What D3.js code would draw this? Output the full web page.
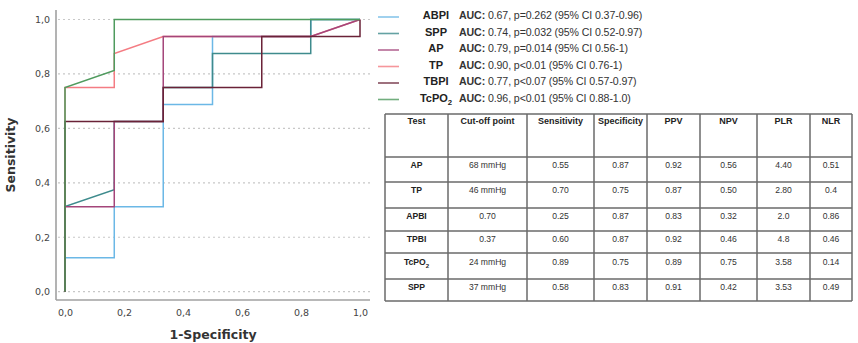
<!DOCTYPE html>
<html>
<head>
<meta charset="utf-8">
<script src="https://cdn.jsdelivr.net/npm/d3@7"></script>
<style>
  body, html { margin:0; padding:0; background:#fff; font-family:"Liberation Sans", Arial, sans-serif; }
  svg text { fill:#333; }
</style>
</head>
<body>
<svg id="chart" width="858" height="343"></svg>
<script>
// ROC curves (1-specificity, sensitivity)
var abpiX = [0, 0, 0.167, 0.167, 0.333, 0.333, 0.5, 0.5, 0.833, 0.833, 1];
var abpiY = [0, 0.125, 0.125, 0.3125, 0.3125, 0.6875, 0.6875, 0.9375, 0.9375, 1, 1];
var sppX = [0, 0, 0.167, 0.167, 0.333, 0.333, 0.5, 0.5, 0.833, 0.833, 1];
var sppY = [0, 0.3125, 0.375, 0.625, 0.625, 0.75, 0.75, 0.875, 0.875, 1, 1];
var apX = [0, 0, 0.167, 0.167, 0.333, 0.333, 0.833, 1];
var apY = [0, 0.3125, 0.3125, 0.625, 0.625, 0.9375, 0.9375, 1];
var tpX = [0, 0, 0.167, 0.167, 0.333, 0.833, 1];
var tpY = [0, 0.75, 0.75, 0.875, 0.9375, 0.9375, 1];
var tbpiX = [0, 0, 0.333, 0.333, 0.667, 0.667, 1, 1];
var tbpiY = [0, 0.625, 0.625, 0.75, 0.75, 0.9375, 0.9375, 1];
var tcpoX = [0, 0, 0.167, 0.167, 1];
var tcpoY = [0, 0.75, 0.8125, 1, 1];

var seriesNames = ["ABPI", "SPP", "AP", "TP", "TBPI", "TcPO2"];
var seriesAuc = [
  "0.67, p=0.262 (95% CI 0.37-0.96)",
  "0.74, p=0.032 (95% CI 0.52-0.97)",
  "0.79, p=0.014 (95% CI 0.56-1)",
  "0.90, p<0.01 (95% CI 0.76-1)",
  "0.77, p<0.07 (95% CI 0.57-0.97)",
  "0.96, p<0.01 (95% CI 0.88-1.0)"
];
var seriesColors = ["#6bb8e6", "#3e8b8d", "#a4457a", "#f47c83", "#6a2237", "#4f9b5e"];
var axisTicks = [0, 0.2, 0.4, 0.6, 0.8, 1.0];

// table
var tableHeader = ["Test", "Cut-off point", "Sensitivity", "Specificity", "PPV", "NPV", "PLR", "NLR"];
var tableTests = ["AP", "TP", "APBI", "TPBI", "TcPO2", "SPP"];
var tableCutoff = ["68 mmHg", "46 mmHg", "0.70", "0.37", "24 mmHg", "37 mmHg"];
var tableSens = ["0.55", "0.70", "0.25", "0.60", "0.89", "0.58"];
var tableSpec = ["0.87", "0.75", "0.87", "0.87", "0.75", "0.83"];
var tablePPV = ["0.92", "0.87", "0.83", "0.92", "0.89", "0.91"];
var tableNPV = ["0.56", "0.50", "0.32", "0.46", "0.75", "0.42"];
var tablePLR = ["4.40", "2.80", "2.0", "4.8", "3.58", "3.53"];
var tableNLR = ["0.51", "0.4", "0.86", "0.46", "0.14", "0.49"];

var svg = d3.select("#chart");

var x = d3.scaleLinear().domain([0, 1]).range([65, 360]);
var y = d3.scaleLinear().domain([0, 1]).range([291.7, 19.5]);
var fmt = function(d){ return d3.format(".1f")(d).replace(".", ","); };

// gridlines
svg.append("g").selectAll("line").data(axisTicks).enter().append("line")
   .attr("x1", 58).attr("x2", 370)
   .attr("y1", function(d){ return y(d); }).attr("y2", function(d){ return y(d); })
   .style("stroke", "#c8c8c8").style("stroke-width", 1.2).style("stroke-dasharray", "2,3");

// axes
var yAxis = svg.append("g").attr("transform", "translate(56,0)")
   .call(d3.axisLeft(y).tickValues(axisTicks).tickSize(0).tickPadding(6).tickFormat(fmt));
var xAxis = svg.append("g").attr("transform", "translate(0,300)")
   .call(d3.axisBottom(x).tickValues(axisTicks).tickSize(0).tickPadding(9).tickFormat(fmt));
[yAxis, xAxis].forEach(function(a){
  a.select(".domain").remove();
  a.selectAll("text").style("font-family", "'DejaVu Sans', sans-serif").style("font-size", "9.5px").style("fill", "#444");
});
svg.append("line").attr("x1", 56).attr("x2", 56).attr("y1", 10).attr("y2", 300)
   .style("stroke", "#a0a0a0").style("stroke-width", 1.6);
svg.append("line").attr("x1", 56).attr("x2", 370).attr("y1", 300).attr("y2", 300)
   .style("stroke", "#a0a0a0").style("stroke-width", 1.6);

svg.append("text").attr("transform", "translate(15,155) rotate(-90)")
   .attr("text-anchor", "middle").style("font-family", "'DejaVu Sans', sans-serif")
   .style("font-size", "12.5px").style("font-weight", "bold").text("Sensitivity");
svg.append("text").attr("x", 213).attr("y", 339)
   .attr("text-anchor", "middle").style("font-family", "'DejaVu Sans', sans-serif")
   .style("font-size", "12.5px").style("font-weight", "bold").text("1-Specificity");

// curves
var curves = [
  {x: abpiX, y: abpiY}, {x: sppX, y: sppY}, {x: apX, y: apY},
  {x: tpX, y: tpY}, {x: tbpiX, y: tbpiY}, {x: tcpoX, y: tcpoY}
];
var line = d3.line().x(function(d){ return x(d[0]); }).y(function(d){ return y(d[1]); });
var drawOrder = [0, 1, 3, 2, 4, 5];
drawOrder.forEach(function(i){
  var pts = d3.zip(curves[i].x, curves[i].y);
  svg.append("path").attr("d", line(pts))
     .style("fill", "none").style("stroke", seriesColors[i]).style("stroke-width", 1.5);
});

// legend
function nameText(sel, name){
  if (name === "TcPO2") {
    sel.append("tspan").text("TcPO");
    sel.append("tspan").text("2").attr("dy", 3).style("font-size", "0.7em");
  } else {
    sel.text(name);
  }
}
var leg = svg.append("g");
seriesNames.forEach(function(name, i){
  var ly = 15 + i * 16.5;
  leg.append("line").attr("x1", 378).attr("x2", 399).attr("y1", ly + 2).attr("y2", ly + 2)
     .style("stroke", seriesColors[i]).style("stroke-width", 1.6).style("opacity", 0.8);
  var t = leg.append("text").attr("x", 436).attr("y", ly + 4).attr("text-anchor", "middle")
     .style("font-size", "11px").style("font-weight", "bold").style("fill", "#222");
  nameText(t, name);
  var a = leg.append("text").attr("x", 459).attr("y", ly + 4)
     .style("font-size", "10.6px").style("fill", "#333").style("letter-spacing", "-0.1px");
  a.append("tspan").text("AUC:").style("font-weight", "bold");
  a.append("tspan").text(" " + seriesAuc[i]);
});

// table
var colEdges = [385, 448, 527, 594, 647, 700, 757, 810, 852];
var rowEdges = [114, 157, 182, 208, 231, 253, 279, 301];
var tbl = svg.append("g");
tbl.selectAll("line.v").data(colEdges).enter().append("line")
   .attr("x1", function(d){ return d; }).attr("x2", function(d){ return d; })
   .attr("y1", rowEdges[0]).attr("y2", rowEdges[rowEdges.length - 1])
   .style("stroke", "#6a6a6a").style("stroke-width", 1.5);
tbl.selectAll("line.h").data(rowEdges).enter().append("line")
   .attr("y1", function(d){ return d; }).attr("y2", function(d){ return d; })
   .attr("x1", colEdges[0]).attr("x2", colEdges[colEdges.length - 1])
   .style("stroke", "#6a6a6a").style("stroke-width", 1.5);

var colCenter = function(c){ return (colEdges[c] + colEdges[c + 1]) / 2; };
tableHeader.forEach(function(h, c){
  tbl.append("text").attr("x", colCenter(c)).attr("y", 124).attr("text-anchor", "middle")
     .style("font-size", "9px").style("font-weight", "bold").style("fill", "#222").text(h);
});
var columns = [tableTests, tableCutoff, tableSens, tableSpec, tablePPV, tableNPV, tablePLR, tableNLR];
var rowText = [165, 190, 216, 239, 262, 287];
tableTests.forEach(function(t, r){
  columns.forEach(function(col, c){
    var el = tbl.append("text").attr("x", colCenter(c)).attr("y", rowText[r] + 3)
       .attr("text-anchor", "middle").style("font-size", "8.6px").style("fill", "#333");
    if (c === 0) {
      el.style("font-weight", "bold").style("fill", "#222");
      nameText(el, col[r]);
    } else {
      el.text(col[r]);
    }
  });
});
</script>
</body>
</html>
